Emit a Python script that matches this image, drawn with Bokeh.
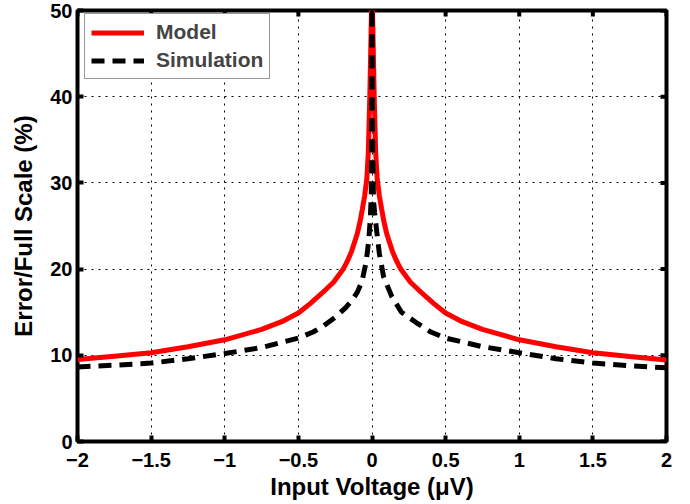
from bokeh.plotting import figure
from bokeh.models import FixedTicker, Legend, LegendItem, Range1d
from bokeh.embed import file_html
from bokeh.resources import INLINE

# ---- data ----
model_x = [-2.0, -1.75, -1.5, -1.25, -1.0, -0.75, -0.6, -0.5, -0.42, -0.34, -0.26, -0.23, -0.195,
           -0.165, -0.14, -0.1, -0.08, -0.065, -0.05, -0.035, -0.025, -0.015, -0.008, -0.003, 0.0,
           0.003, 0.008, 0.015, 0.025, 0.035, 0.05, 0.065, 0.08, 0.1, 0.14, 0.165, 0.195, 0.23,
           0.26, 0.34, 0.42, 0.5, 0.6, 0.75, 1.0, 1.25, 1.5, 1.75, 2.0]
model_y = [9.5, 9.9, 10.3, 11.0, 11.8, 13.0, 14.0, 14.9, 16.0, 17.2, 18.5, 19.2, 20.0,
           21.0, 22.0, 24.1, 25.6, 27.0, 28.5, 30.5, 33.5, 40.0, 46.0, 50.5, 52.0,
           50.5, 46.0, 40.0, 33.5, 30.5, 28.5, 27.0, 25.6, 24.1, 22.0, 21.0, 20.0, 19.2,
           18.5, 17.2, 16.0, 14.9, 14.0, 13.0, 11.8, 11.0, 10.3, 9.85, 9.45]

sim_x = [-2.0, -1.75, -1.5, -1.25, -1.0, -0.75, -0.5, -0.4, -0.33, -0.25, -0.18, -0.135,
         -0.1, -0.068, -0.04, -0.022, -0.012, -0.005, -0.002, 0.0,
         0.003, 0.01, 0.018, 0.034, 0.05, 0.079, 0.135, 0.2, 0.3, 0.4, 0.5, 0.75,
         1.0, 1.25, 1.5, 1.75, 2.0]
sim_y = [8.65, 8.85, 9.1, 9.6, 10.2, 10.9, 12.0, 12.7, 13.4, 14.4, 15.5, 16.4,
         17.3, 18.6, 20.8, 23.3, 25.8, 28.5, 36.0, 55.0,
         36.0, 28.0, 26.5, 24.1, 21.8, 19.1, 16.8, 15.0, 13.8, 12.7, 12.0, 11.0,
         10.3, 9.6, 9.1, 8.8, 8.55]

x_ticks = [-2, -1.5, -1, -0.5, 0, 0.5, 1, 1.5, 2]
x_tick_labels = ["\u22122", "\u22121.5", "\u22121", "\u22120.5", "0", "0.5", "1", "1.5", "2"]
y_ticks = [0, 10, 20, 30, 40, 50]
y_tick_labels = ["0", "10", "20", "30", "40", "50"]

X_MIN, X_MAX = -2, 2
Y_MIN, Y_MAX = 0, 50
FONT = "Liberation Sans"
FRAME_W, FRAME_H = 589, 431

p = figure(frame_width=FRAME_W, frame_height=FRAME_H, output_backend="svg", toolbar_location=None,
           x_range=Range1d(X_MIN, X_MAX), y_range=Range1d(Y_MIN, Y_MAX),
           min_border_left=77, min_border_right=8, min_border_top=10, min_border_bottom=0)
p.background_fill_color = "white"
p.border_fill_color = "white"
p.outline_line_color = "black"
p.outline_line_width = 4

r_model = p.line(model_x, model_y, line_color="#ff0000", line_width=5)
r_sim = p.line(sim_x, sim_y, line_color="black", line_width=5, line_dash="13 8")

# inward ticks on the top and right edges of the box (MATLAB style)
tick_dy = 6 * (Y_MAX - Y_MIN) / FRAME_H
tick_dx = 6 * (X_MAX - X_MIN) / FRAME_W
p.segment(x0=x_ticks, x1=x_ticks, y0=[Y_MAX] * len(x_ticks), y1=[Y_MAX - tick_dy] * len(x_ticks),
          line_color="black", line_width=4)
p.segment(x0=[X_MAX] * len(y_ticks), x1=[X_MAX - tick_dx] * len(y_ticks), y0=y_ticks, y1=y_ticks,
          line_color="black", line_width=4)

for ax in (p.xaxis[0], p.yaxis[0]):
    ax.axis_line_color = None
    ax.major_tick_line_color = "black"
    ax.major_tick_line_width = 4
    ax.major_tick_in = 6
    ax.major_tick_out = 0
    ax.minor_tick_line_color = None
    ax.major_label_text_font = FONT
    ax.major_label_text_font_style = "bold"
    ax.major_label_text_font_size = "20px"
    ax.major_label_text_color = "black"
    ax.axis_label_text_font = FONT
    ax.axis_label_text_font_style = "bold"
    ax.axis_label_text_font_size = "24px"
    ax.axis_label_text_color = "black"

p.xaxis.ticker = FixedTicker(ticks=x_ticks)
p.yaxis.ticker = FixedTicker(ticks=y_ticks)
p.xaxis.major_label_overrides = dict(zip(x_ticks, x_tick_labels))
p.yaxis.major_label_overrides = dict(zip(y_ticks, y_tick_labels))
p.xaxis.axis_label = "Input Voltage (\u03bcV)"
p.yaxis.axis_label = "Error/Full Scale (%)"
p.xaxis.major_label_standoff = 11
p.xaxis.axis_label_standoff = 3
p.yaxis.major_label_standoff = 5
p.yaxis.axis_label_standoff = 10

for g in (p.xgrid[0], p.ygrid[0]):
    g.grid_line_color = "black"
    g.grid_line_dash = "2 5"
    g.grid_line_width = 1
    g.grid_line_alpha = 1.0
p.xgrid.ticker = FixedTicker(ticks=x_ticks)
p.ygrid.ticker = FixedTicker(ticks=y_ticks)

LEG_H = 62
legend = Legend(items=[LegendItem(label="Model", renderers=[r_model]),
                       LegendItem(label="Simulation", renderers=[r_sim])],
                location=(7, FRAME_H - LEG_H - 7))
legend.label_text_font = FONT
legend.label_text_font_style = "bold"
legend.label_text_font_size = "21px"
legend.glyph_width = 53
legend.glyph_height = 23
legend.label_height = 23
legend.spacing = 4
legend.padding = 6
legend.margin = 0
legend.label_standoff = 12
legend.border_line_color = "#333333"
legend.border_line_width = 1
legend.background_fill_color = "white"
legend.background_fill_alpha = 1.0
p.add_layout(legend)

open("out.html", "w").write(file_html(p, INLINE))
